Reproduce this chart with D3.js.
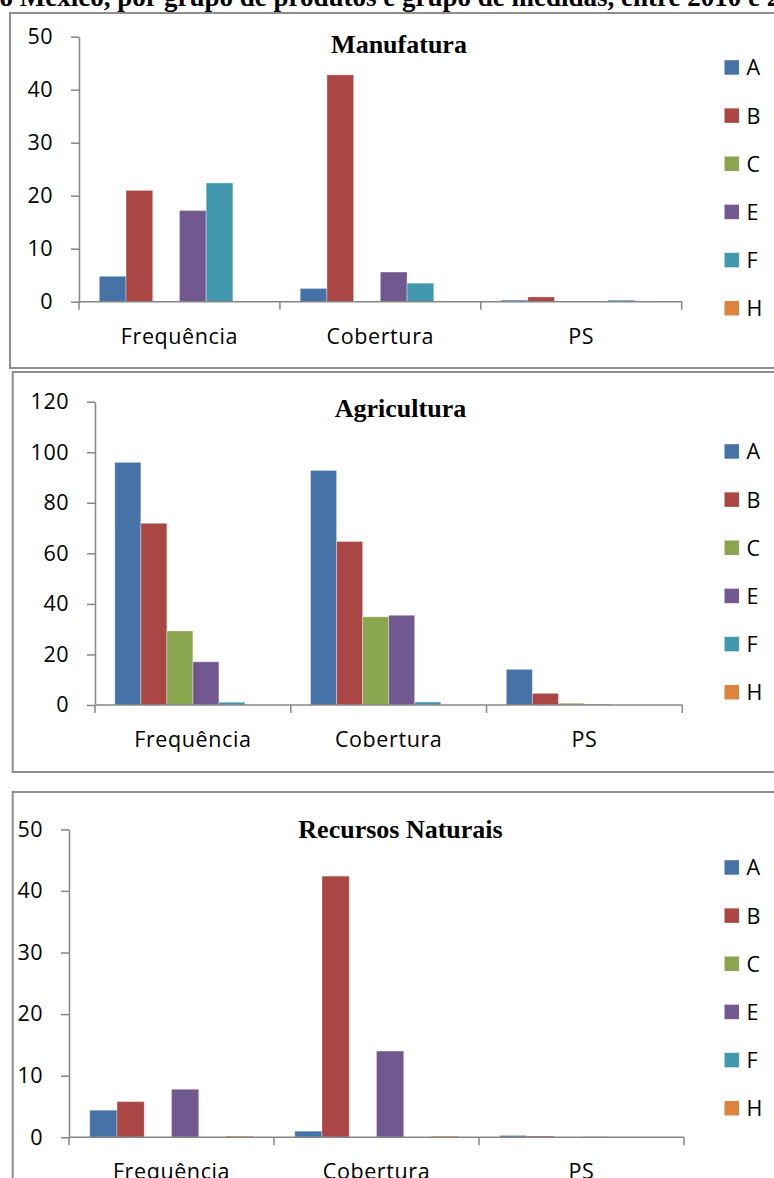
<!DOCTYPE html>
<html>
<head>
<meta charset="utf-8">
<script src="https://cdn.jsdelivr.net/npm/d3@7/dist/d3.min.js"></script>
<style>
  html, body { margin: 0; padding: 0; background: #fff; }
  svg { display: block; }
  .tick-label, .cat-label, .legend-label { font-family: "Open Sans", "DejaVu Sans", sans-serif; fill: #000; }
  .panel-title, .page-title { font-family: "Liberation Serif", "Times New Roman", serif; font-weight: bold; fill: #000; }
</style>
</head>
<body>
<svg id="chart" width="774" height="1178"></svg>
<script>
// Groups of measures and product groups
const categories = ["Frequência", "Cobertura", "PS"];
const seriesNames = ["A", "B", "C", "E", "F", "H"];
const seriesColors = ["#4572A7", "#AA4643", "#89A54E", "#71588F", "#4198AF", "#DB843D"];

// Values per series (A, B, C, E, F, H), each listing Frequência, Cobertura, PS
const manufaturaValues = [
  [4.8, 2.5, 0.3],
  [21.0, 42.8, 0.9],
  [0, 0, 0],
  [17.2, 5.6, 0.1],
  [22.4, 3.5, 0.3],
  [0, 0, 0]
];
const agriculturaValues = [
  [96.0, 92.8, 14.1],
  [71.9, 64.7, 4.6],
  [29.3, 34.9, 0.7],
  [17.1, 35.5, 0.3],
  [1.1, 1.2, 0],
  [0, 0, 0]
];
const recursosValues = [
  [4.4, 1.0, 0.3],
  [5.8, 42.4, 0.2],
  [0, 0, 0],
  [7.8, 14.0, 0.1],
  [0, 0, 0],
  [0.2, 0.2, 0]
];

const manufaturaTicks = [0, 10, 20, 30, 40, 50];
const agriculturaTicks = [0, 20, 40, 60, 80, 100, 120];
const recursosTicks = [0, 10, 20, 30, 40, 50];

const panelTitles = ["Manufatura", "Agricultura", "Recursos Naturais"];

// Layout of each framed panel
const panels = [
  { title: panelTitles[0], values: manufaturaValues, ticks: manufaturaTicks,
    frame: { x: 10, y: 13, b: 368 }, x0: 79, x1: 681.7, yBase: 301.7, yTop: 36.7,
    titleX: 399, titleY: 52.5, legendY: 67.7 },
  { title: panelTitles[1], values: agriculturaValues, ticks: agriculturaTicks,
    frame: { x: 12.7, y: 372, b: 772 }, x0: 95, x1: 682.3, yBase: 705, yTop: 401.7,
    titleX: 400.5, titleY: 416.5, legendY: 451.7 },
  { title: panelTitles[2], values: recursosValues, ticks: recursosTicks,
    frame: { x: 12.7, y: 792, b: 1300 }, x0: 69, x1: 684, yBase: 1137.3, yTop: 829.3,
    titleX: 400.5, titleY: 838.3, legendY: 867.7 }
];

const svg = d3.select("#chart");
const axisColor = "#868686";

// Page heading, only its lower part sits inside the view
svg.append("text")
  .attr("class", "page-title")
  .attr("x", -14)
  .attr("y", 6)
  .attr("font-size", 27)
  .text("ao México, por grupo de produtos e grupo de medidas, entre 2010 e 2012");

panels.forEach(p => {
  const g = svg.append("g");

  // frame
  g.append("rect")
    .attr("x", p.frame.x).attr("y", p.frame.y)
    .attr("width", 900).attr("height", p.frame.b - p.frame.y)
    .attr("fill", "none").attr("stroke", "#8e8e8e").attr("stroke-width", 2);

  const ymax = d3.max(p.ticks);
  const y = d3.scaleLinear().domain([0, ymax]).range([p.yBase, p.yTop]);
  const x0 = d3.scaleBand().domain(categories).range([p.x0, p.x1]).padding(0);
  const x1 = d3.scaleBand().domain(seriesNames).range([0, x0.bandwidth()])
    .paddingInner(0).paddingOuter(0.76);

  // y axis
  const yAxis = d3.axisLeft(y).tickValues(p.ticks).tickSize(8).tickSizeOuter(0).tickPadding(18);
  const ya = g.append("g").attr("transform", `translate(${p.x0},0)`).call(yAxis);
  ya.select(".domain").attr("stroke", axisColor).attr("stroke-width", 1.5);
  ya.selectAll(".tick line").attr("stroke", axisColor).attr("stroke-width", 1.5);
  ya.selectAll(".tick text")
    .attr("class", "tick-label")
    .attr("font-size", 21.5)
    .attr("letter-spacing", 0.5)
    .attr("fill", "#000");

  // bars
  seriesNames.forEach((s, si) => {
    g.append("g").selectAll("rect")
      .data(categories.map((c, ci) => ({ c, v: p.values[si][ci] })))
      .join("rect")
      .attr("x", d => x0(d.c) + x1(s))
      .attr("y", d => y(d.v))
      .attr("width", x1.bandwidth())
      .attr("height", d => p.yBase - y(d.v))
      .attr("fill", seriesColors[si])
      .attr("stroke", d => d.v > 0 ? "rgba(255,255,255,0.35)" : "none")
      .attr("stroke-width", 1);
  });

  // category axis with ticks at group boundaries
  g.append("line")
    .attr("x1", p.x0).attr("x2", p.x1)
    .attr("y1", p.yBase).attr("y2", p.yBase)
    .attr("stroke", axisColor).attr("stroke-width", 1.5);
  const bounds = categories.map(c => x0(c)).concat([x0.range()[1]]);
  g.selectAll(".xtick").data(bounds).join("line")
    .attr("x1", d => d).attr("x2", d => d)
    .attr("y1", p.yBase).attr("y2", p.yBase + 8)
    .attr("stroke", axisColor).attr("stroke-width", 1.5);
  g.selectAll(".cat-label").data(categories).join("text")
    .attr("class", "cat-label")
    .attr("x", c => x0(c) + x0.bandwidth() / 2)
    .attr("y", p.yBase + 42)
    .attr("text-anchor", "middle")
    .attr("font-size", 21.5)
    .attr("letter-spacing", 0.6)
    .text(c => c);

  // title
  g.append("text")
    .attr("class", "panel-title")
    .attr("x", p.titleX).attr("y", p.titleY)
    .attr("text-anchor", "middle")
    .attr("font-size", 26)
    .text(p.title);

  // legend
  const lg = g.append("g");
  seriesNames.forEach((s, si) => {
    const cy = p.legendY + si * 48.15;
    lg.append("rect")
      .attr("x", 724.5).attr("y", cy - 7.5)
      .attr("width", 14.5).attr("height", 14.5)
      .attr("fill", seriesColors[si]);
    lg.append("text")
      .attr("class", "legend-label")
      .attr("x", 746.5).attr("y", cy)
      .attr("dy", "0.36em")
      .attr("font-size", 21.5)
      .text(s);
  });
});
</script>
</body>
</html>
